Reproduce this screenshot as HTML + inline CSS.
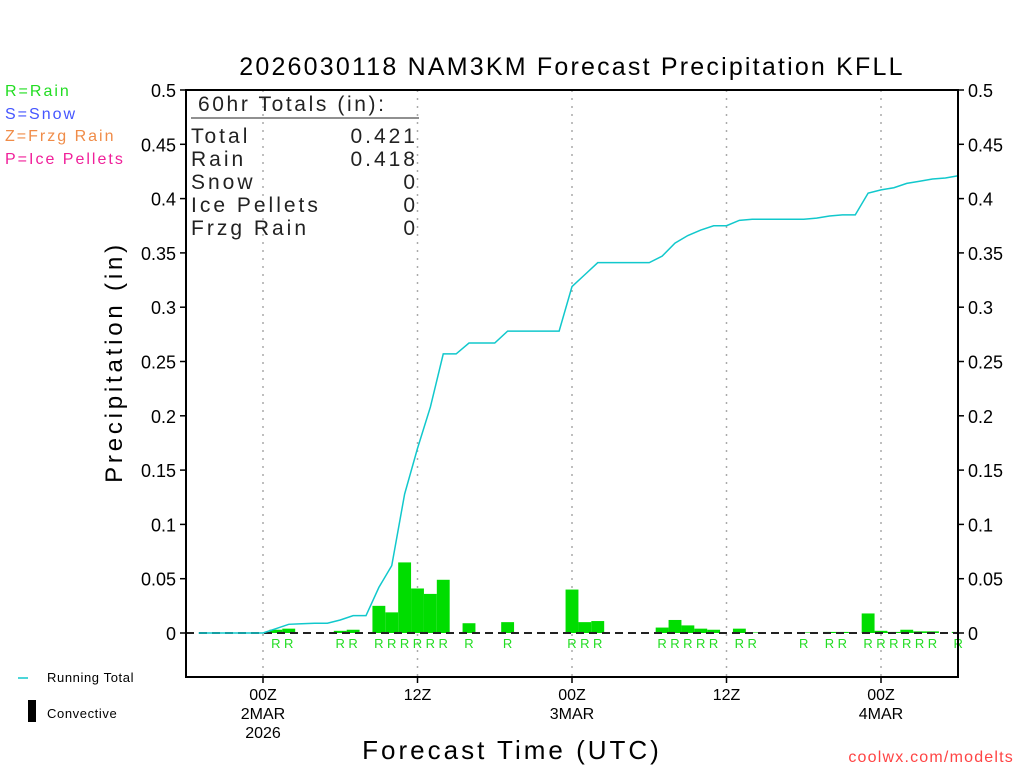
<!DOCTYPE html>
<html><head><meta charset="utf-8"><style>
body{margin:0;background:#fff;width:1024px;height:768px;overflow:hidden}
svg{display:block;font-family:"Liberation Sans",sans-serif}
</style></head><body>
<svg id="chart" width="1024" height="768" viewBox="0 0 1024 768">
<text x="572" y="75" text-anchor="middle" font-size="25" letter-spacing="2.2">2026030118 NAM3KM Forecast Precipitation KFLL</text>
<g font-size="16" letter-spacing="2">
<text x="5" y="96" fill="#22dd22">R=Rain</text>
<text x="5" y="119" fill="#4455ff">S=Snow</text>
<text x="5" y="141" fill="#f08c48">Z=Frzg Rain</text>
<text x="5" y="164" fill="#f0209a">P=Ice Pellets</text>
</g>
<g id="grid"></g>
<g id="bars"></g>
<line x1="186" y1="633" x2="958" y2="633" stroke="#222" stroke-width="2" stroke-dasharray="8,5"/>
<polyline id="total" fill="none" stroke="#11c8cc" stroke-width="1.5"/>
<g id="labels" font-size="13" fill="#22dd22"></g>
<rect x="186" y="90" width="772" height="587" fill="none" stroke="#000" stroke-width="2"/>
<g id="yaxis" font-size="18"></g>
<g id="xaxis" font-size="16" text-anchor="middle"></g>
<g font-size="21" letter-spacing="3" fill="#222">
<text x="198" y="111" letter-spacing="2.6">60hr Totals (in):</text>
<line x1="191" y1="118" x2="419" y2="118" stroke="#222" stroke-width="1"/>
<text x="191" y="143">Total</text><text x="418" y="143" text-anchor="end">0.421</text>
<text x="191" y="166">Rain</text><text x="418" y="166" text-anchor="end">0.418</text>
<text x="191" y="189">Snow</text><text x="418" y="189" text-anchor="end">0</text>
<text x="191" y="212">Ice Pellets</text><text x="418" y="212" text-anchor="end">0</text>
<text x="191" y="235">Frzg Rain</text><text x="418" y="235" text-anchor="end">0</text>
</g>
<text x="122" y="362" font-size="24" letter-spacing="3.8" text-anchor="middle" transform="rotate(-90 122 362)">Precipitation (in)</text>
<text x="512" y="759" font-size="26" letter-spacing="3" text-anchor="middle">Forecast Time (UTC)</text>
<text x="1014" y="762" font-size="16" letter-spacing="1.2" fill="#ff4444" text-anchor="end">coolwx.com/modelts</text>
<g>
<line x1="18" y1="678" x2="28" y2="678" stroke="#11c8cc" stroke-width="1.5"/>
<text x="47" y="682" font-size="13" letter-spacing="0.6">Running Total</text>
<rect x="28" y="700" width="8" height="22" fill="#000"/>
<text x="47" y="718" font-size="13" letter-spacing="0.6">Convective</text>
</g>
</svg>
<script>
const hours=[7,8,12,13,15,16,17,18,19,20,22,25,30,31,32,37,38,39,40,41,43,44,48,50,51,53,54,55,56,57,58,60];
const barValues=[0.003,0.004,0.002,0.003,0.025,0.019,0.065,0.041,0.036,0.049,0.009,0.01,0.04,0.01,0.011,0.005,0.012,0.007,0.004,0.003,0.004,0.0005,0.0005,0.001,0.001,0.018,0.002,0.001,0.003,0.0015,0.0015,0.001];
const totalValues=[0,0,0,0,0,0,0,0.004,0.008,0.0085,0.009,0.009,0.012,0.016,0.016,0.042,0.062,0.128,0.17,0.208,0.257,0.257,0.267,0.267,0.267,0.278,0.278,0.278,0.278,0.278,0.319,0.33,0.341,0.341,0.341,0.341,0.341,0.347,0.359,0.366,0.371,0.375,0.375,0.38,0.381,0.381,0.381,0.381,0.381,0.382,0.384,0.385,0.385,0.405,0.408,0.41,0.414,0.416,0.418,0.419,0.421];
const yTicks=[0,0.05,0.1,0.15,0.2,0.25,0.3,0.35,0.4,0.45,0.5];
const yTickLabels=["0","0.05","0.1","0.15","0.2","0.25","0.3","0.35","0.4","0.45","0.5"];
const xTickHours=[6,18,30,42,54];
const xTickLabels=[["00Z","2MAR","2026"],["12Z"],["00Z","3MAR"],["12Z"],["00Z","4MAR"]];
const NS="http://www.w3.org/2000/svg";
const X0=185.75,HW=12.875,Y0=633,YS=1086;
const xs=h=>X0+h*HW, ys=v=>Y0-v*YS;
function mk(t,a,p){const e=document.createElementNS(NS,t);for(const k in a)e.setAttribute(k,a[k]);p.appendChild(e);return e;}
const grid=document.getElementById('grid');
xTickHours.forEach(h=>{const l=mk('line',{x1:xs(h),x2:xs(h),y1:90,y2:677,stroke:'#aaa','stroke-width':1.5,'stroke-dasharray':'2,6'},grid);

});
const bars=document.getElementById('bars'),labels=document.getElementById('labels');
hours.forEach((h,i)=>{const x1=Math.max(186,xs(h)-HW/2),x2=Math.min(958,xs(h)+HW/2);
const r=mk('rect',{x:x1,y:ys(barValues[i]),width:x2-x1,height:Y0-ys(barValues[i]),fill:'#00dd00'},bars);


const t=mk('text',{x:xs(h),y:648,'text-anchor':'middle'},labels);t.textContent='R';

});
document.getElementById('total').setAttribute('points',totalValues.map((v,i)=>[i,v]).slice(1).map(([i,v])=>xs(i)+','+ys(v)).join(' '));
const ya=document.getElementById('yaxis');
yTicks.forEach((v,i)=>{const y=ys(v);
mk('line',{x1:180,x2:186,y1:y,y2:y,stroke:'#000','stroke-width':1.5},ya);
mk('line',{x1:958,x2:964,y1:y,y2:y,stroke:'#000','stroke-width':1.5},ya);
const a=mk('text',{x:176,y:y+7,'text-anchor':'end'},ya);a.textContent=yTickLabels[i];


const b=mk('text',{x:968,y:y+7},ya);b.textContent=yTickLabels[i];

});
const xa=document.getElementById('xaxis');
xTickHours.forEach((h,i)=>{mk('line',{x1:xs(h),x2:xs(h),y1:677,y2:683,stroke:'#000','stroke-width':1.5},xa);
xTickLabels[i].forEach((s,j)=>{const t=mk('text',{x:xs(h),y:700+j*19},xa);t.textContent=s;

});});
</script>
</body></html>
